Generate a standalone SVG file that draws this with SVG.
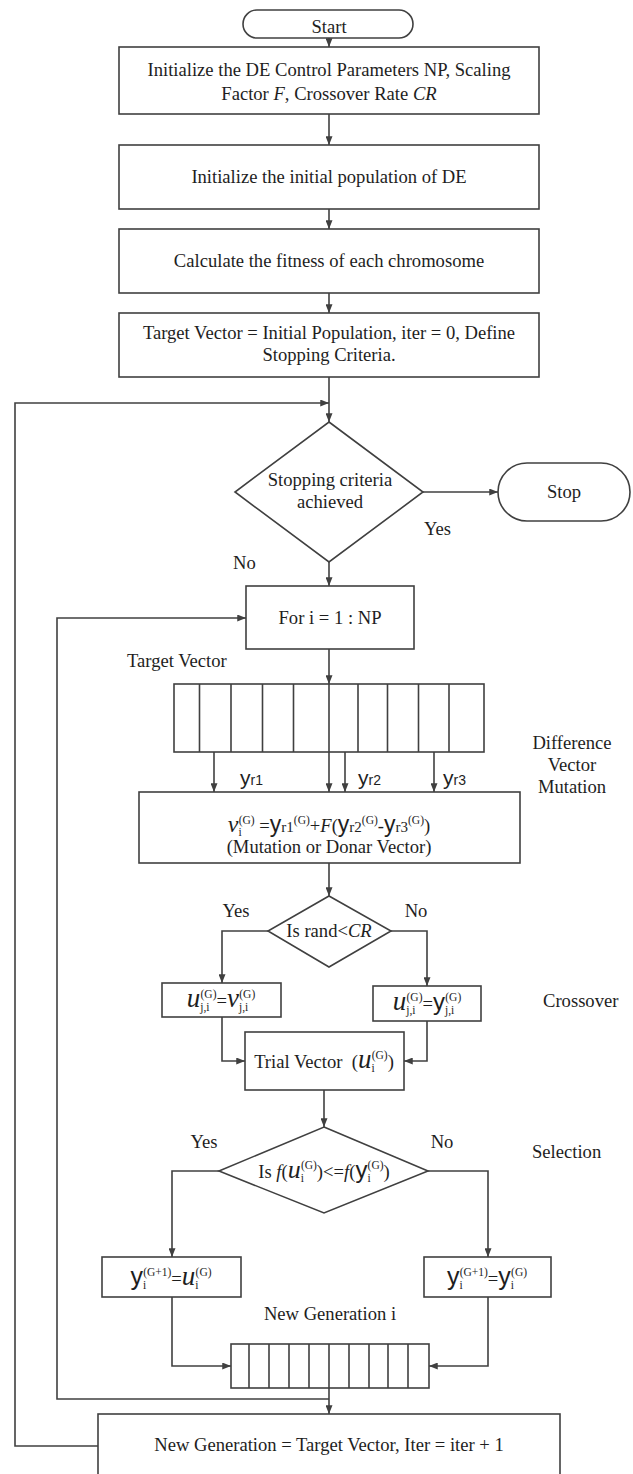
<svg xmlns="http://www.w3.org/2000/svg" width="633" height="1474" viewBox="0 0 633 1474">
  <defs>
    <style>
      .box { fill: #ffffff; stroke: #404040; stroke-width: 1.6; }
      .ln { fill: none; stroke: #404040; stroke-width: 1.6; }
      .arr { marker-end: url(#ah); }
      .t { font-family: "Liberation Serif", "Times New Roman", serif; font-size: 18.6px; fill: #1e1e1e; }
      .m { text-anchor: middle; }
      .it { font-style: italic; }
      .sy { font-family: "Liberation Sans", Arial, sans-serif; }
      .sm { font-size: 11.5px; }
    </style>
    <marker id="ah" viewBox="0 0 10 8" refX="10" refY="4" markerWidth="9" markerHeight="7" orient="auto" markerUnits="userSpaceOnUse">
      <path d="M0,0 L10,4 L0,8 z" fill="#404040"/>
    </marker>
  </defs>
  <rect width="633" height="1474" fill="#ffffff"/>

  <!-- connectors -->
  <g id="connectors">
    <path class="ln arr" d="M329,38 V47"/>
    <path class="ln arr" d="M329,114 V145"/>
    <path class="ln arr" d="M329,209 V229"/>
    <path class="ln arr" d="M329,293 V313"/>
    <path class="ln arr" d="M329,377 V422"/>
    <path class="ln arr" d="M98,1446 H15 V403 H329"/>
    <path class="ln arr" d="M423,492 H498"/>
    <path class="ln arr" d="M329,562 V586"/>
    <path class="ln arr" d="M329,1399 H57 V618 H246"/>
    <path class="ln arr" d="M329,649 V684"/>
    <path class="ln arr" d="M329,752 V792"/>
    <path class="ln arr" d="M214,752 V792"/>
    <path class="ln arr" d="M345,752 V792"/>
    <path class="ln arr" d="M434,752 V792"/>
    <path class="ln arr" d="M329,863 V896"/>
    <path class="ln arr" d="M268,931 H222 V983"/>
    <path class="ln arr" d="M391,931 H427 V986"/>
    <path class="ln arr" d="M222,1017 V1061 H245"/>
    <path class="ln arr" d="M427,1021 V1061 H404"/>
    <path class="ln arr" d="M324,1090 V1127"/>
    <path class="ln arr" d="M219,1171 H172 V1257"/>
    <path class="ln arr" d="M428,1171 H488 V1257"/>
    <path class="ln arr" d="M172,1297 V1366 H231"/>
    <path class="ln arr" d="M488,1297 V1366 H429"/>
    <path class="ln arr" d="M329,1388 V1414"/>
  </g>

  <!-- branch and stage labels -->
  <g id="labels" class="t">
    <text x="424" y="535">Yes</text>
    <text x="233" y="569">No</text>
    <text x="127" y="667">Target Vector</text>
    <text class="m" x="572" y="749">Difference</text>
    <text class="m" x="572" y="771">Vector</text>
    <text class="m" x="572" y="793">Mutation</text>
    <text x="240" y="785"><tspan class="sy" font-size="21">y</tspan><tspan class="sy" font-size="14">r1</tspan></text>
    <text x="358" y="785"><tspan class="sy" font-size="21">y</tspan><tspan class="sy" font-size="14">r2</tspan></text>
    <text x="443" y="785"><tspan class="sy" font-size="21">y</tspan><tspan class="sy" font-size="14">r3</tspan></text>
    <text class="m" x="236" y="917">Yes</text>
    <text class="m" x="416" y="917">No</text>
    <text x="543" y="1007">Crossover</text>
    <text class="m" x="204" y="1148">Yes</text>
    <text class="m" x="442" y="1148">No</text>
    <text x="532" y="1158">Selection</text>
    <text class="m" x="330" y="1320">New Generation i</text>
  </g>

  <g id="start">
    <rect class="box" x="243" y="10" width="170" height="28" rx="14"/>
    <text class="t m" x="329" y="33">Start</text>
  </g>

  <g id="init-params">
    <rect class="box" x="119" y="47" width="420" height="67"/>
    <text class="t m" x="329" y="76">Initialize the DE Control Parameters NP, Scaling</text>
    <text class="t m" x="329" y="100">Factor <tspan class="it">F</tspan>, Crossover Rate <tspan class="it">CR</tspan></text>
  </g>

  <g id="init-pop">
    <rect class="box" x="119" y="145" width="420" height="64"/>
    <text class="t m" x="329" y="183">Initialize the initial population of DE</text>
  </g>

  <g id="fitness">
    <rect class="box" x="119" y="229" width="420" height="64"/>
    <text class="t m" x="329" y="267">Calculate the fitness of each chromosome</text>
  </g>

  <g id="target-init">
    <rect class="box" x="119" y="313" width="420" height="64"/>
    <text class="t m" x="329" y="339">Target Vector = Initial Population, iter = 0, Define</text>
    <text class="t m" x="329" y="361">Stopping Criteria.</text>
  </g>

  <g id="stop-check">
    <polygon class="box" points="329,422 423,492 329,562 235,492"/>
    <text class="t m" x="330" y="486">Stopping criteria</text>
    <text class="t m" x="330" y="508">achieved</text>
  </g>

  <g id="stop">
    <rect class="box" x="498" y="463" width="132" height="58" rx="29"/>
    <text class="t m" x="564" y="498">Stop</text>
  </g>

  <g id="for-loop">
    <rect class="box" x="246" y="586" width="168" height="63"/>
    <text class="t m" x="330" y="624">For i = 1 : NP</text>
  </g>

  <g id="target-vector">
    <rect class="box" x="174" y="684" width="310" height="68"/>
    <path class="ln" d="M199.5,684 V752 M231,684 V752 M262.5,684 V752 M293.5,684 V752 M329,684 V752 M358,684 V752 M387.5,684 V752 M418.5,684 V752 M449,684 V752"/>
  </g>

  <g id="mutation">
    <rect class="box" x="139" y="792" width="381" height="71"/>
    <text class="t m" x="329" y="832"><tspan class="it" font-size="24">v</tspan><tspan class="sm" dy="4">i</tspan><tspan class="sm" dx="-3" dy="-12">(G)</tspan><tspan dy="8"> =</tspan><tspan class="sy" font-size="23">y</tspan><tspan font-size="15">r1</tspan><tspan class="sm" dy="-8">(G)</tspan><tspan dy="8">+</tspan><tspan class="it">F</tspan>(<tspan class="sy" font-size="23">y</tspan><tspan font-size="15">r2</tspan><tspan class="sm" dy="-8">(G)</tspan><tspan dy="8">-</tspan><tspan class="sy" font-size="23">y</tspan><tspan font-size="15">r3</tspan><tspan class="sm" dy="-8">(G)</tspan><tspan dy="8">)</tspan></text>
    <text class="t m" x="329" y="853">(Mutation or Donar Vector)</text>
  </g>

  <g id="crossover-check">
    <polygon class="box" points="329,896 391,931 329,967 268,931"/>
    <text class="t m" x="329" y="937">Is rand&lt;<tspan class="it">CR</tspan></text>
  </g>

  <g id="take-donor">
    <rect class="box" x="162" y="983" width="119" height="34"/>
    <text class="t m" x="221" y="1007"><tspan class="it" font-size="27">u</tspan><tspan class="sm" dy="4">j,i</tspan><tspan class="sm" dx="-9" dy="-13">(G)</tspan><tspan dy="9">=</tspan><tspan class="it" font-size="27">v</tspan><tspan class="sm" dy="4">j,i</tspan><tspan class="sm" dx="-9" dy="-13">(G)</tspan></text>
  </g>

  <g id="take-target">
    <rect class="box" x="373" y="986" width="108" height="35"/>
    <text class="t m" x="427" y="1010"><tspan class="it" font-size="27">u</tspan><tspan class="sm" dy="4">j,i</tspan><tspan class="sm" dx="-9" dy="-13">(G)</tspan><tspan dy="9">=</tspan><tspan class="sy" font-size="24">y</tspan><tspan class="sm" dy="4">j,i</tspan><tspan class="sm" dx="-9" dy="-13">(G)</tspan></text>
  </g>

  <g id="trial-vector">
    <rect class="box" x="245" y="1032" width="159" height="58"/>
    <text class="t m" x="324" y="1068" xml:space="preserve">Trial Vector  (<tspan class="it" font-size="27">u</tspan><tspan class="sm" dy="4">i</tspan><tspan class="sm" dx="-3" dy="-13">(G)</tspan><tspan dy="9">)</tspan></text>
  </g>

  <g id="selection-check">
    <polygon class="box" points="324,1127 428,1171 324,1213 219,1171"/>
    <text class="t m" x="324" y="1178">Is <tspan class="it">f</tspan>(<tspan class="it" font-size="26">u</tspan><tspan class="sm" dy="4">i</tspan><tspan class="sm" dx="-3" dy="-13">(G)</tspan><tspan dy="9">)&lt;=</tspan><tspan class="it">f</tspan>(<tspan class="sy" font-size="24">y</tspan><tspan class="sm" dy="4">i</tspan><tspan class="sm" dx="-3" dy="-13">(G)</tspan><tspan dy="9">)</tspan></text>
  </g>

  <g id="keep-trial">
    <rect class="box" x="102" y="1257" width="139" height="40"/>
    <text class="t m" x="171" y="1285"><tspan class="sy" font-size="25">y</tspan><tspan class="sm" dy="4">i</tspan><tspan class="sm" dx="-3" dy="-13">(G+1)</tspan><tspan dy="9">=</tspan><tspan class="it" font-size="27">u</tspan><tspan class="sm" dy="4">i</tspan><tspan class="sm" dx="-3" dy="-13">(G)</tspan></text>
  </g>

  <g id="keep-target">
    <rect class="box" x="424" y="1257" width="127" height="40"/>
    <text class="t m" x="487" y="1285"><tspan class="sy" font-size="25">y</tspan><tspan class="sm" dy="4">i</tspan><tspan class="sm" dx="-3" dy="-13">(G+1)</tspan><tspan dy="9">=</tspan><tspan class="sy" font-size="25">y</tspan><tspan class="sm" dy="4">i</tspan><tspan class="sm" dx="-3" dy="-13">(G)</tspan></text>
  </g>

  <g id="new-generation">
    <rect class="box" x="231" y="1344" width="198" height="44"/>
    <path class="ln" d="M249,1344 V1388 M269,1344 V1388 M289,1344 V1388 M309,1344 V1388 M329,1344 V1388 M349,1344 V1388 M369,1344 V1388 M388,1344 V1388 M408,1344 V1388"/>
  </g>

  <g id="next-iteration">
    <rect class="box" x="98" y="1414" width="462" height="80"/>
    <text class="t m" x="329" y="1451">New Generation = Target Vector, Iter = iter + 1</text>
  </g>
</svg>
